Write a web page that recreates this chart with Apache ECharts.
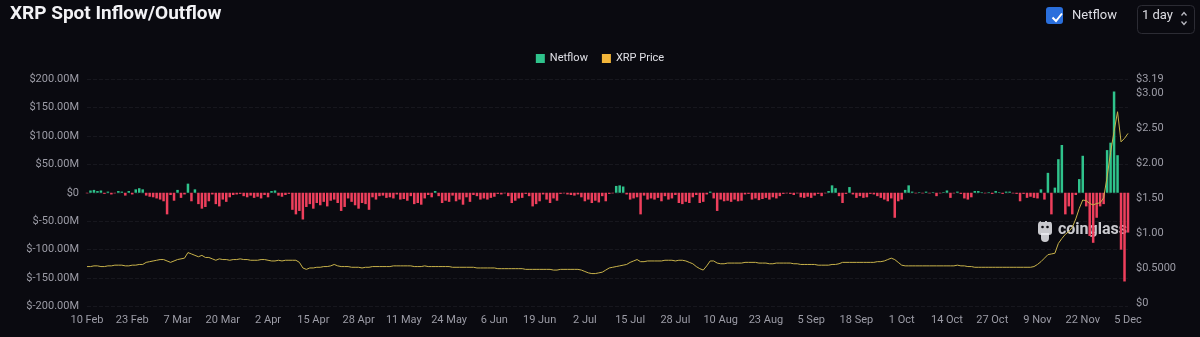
<!DOCTYPE html>
<html>
<head>
<meta charset="utf-8">
<script src="https://cdn.jsdelivr.net/npm/echarts@6/dist/echarts.min.js"></script>
<style>
  html, body { margin: 0; padding: 0; background: #0a0a10; }
  #chart { width: 1200px; height: 337px; }
</style>
</head>
<body>
<div id="chart"></div>
<script>
// ---- data ----
const startDate = '2024-02-10';
const dayCount = 300;
const monthNames = ['Jan','Feb','Mar','Apr','May','Jun','Jul','Aug','Sep','Oct','Nov','Dec'];

// Netflow, millions of USD (one per day)
const netflow = [
  -1,4,5,3,4,-2,2,-3,-1,3,
  2,-5,3,-3,6,8,6,-5,-7,-8,
  -10,-12,-15,-38,-4,-14,5,-9,-3,16,
  -15,6,-20,-28,-25,-15,-3,-20,-24,-12,
  -16,-8,-4,-3,-2,-6,-8,-5,-9,-7,
  -10,-4,-8,3,4,-5,-7,-4,-2,-30,
  -38,-32,-47,-25,-20,-28,-18,-22,-16,-24,
  -14,-12,-18,-32,-25,-10,-16,-22,-28,-18,
  -20,-30,-8,-12,-6,-5,-9,-8,-10,-3,
  -12,-11,-14,-6,-20,-18,-21,-10,-4,-8,
  3,-6,-18,-14,-16,-5,-15,-12,-21,-8,
  -16,-4,-6,-12,-10,-12,-9,-7,-2,-3,
  -1,-6,-18,-14,-10,-9,-2,-6,-24,-20,
  -15,-3,-12,-18,-10,-14,-2,-1,-3,-4,
  -5,-3,-8,-15,-12,-18,-14,-17,-6,-15,
  -2,-1,12,13,11,-3,-12,-10,-8,-38,
  -5,-12,-10,-12,-9,-15,-6,-12,-10,-4,
  -18,-20,-16,-18,-8,-4,-18,-16,-3,2,
  -10,-32,-12,-15,-14,-16,-12,-15,-14,-3,
  -2,-12,-10,-13,-11,-9,-12,-8,-10,-6,
  -2,-1,-2,-4,-1,-8,-9,-7,-9,-5,
  -2,-6,-1,3,13,8,-6,-18,-2,10,
  -3,-9,-6,-9,-8,-2,-3,-6,-9,-12,
  -15,-10,-44,-15,-12,5,13,2,-1,1,
  -1,2,-1,1,-6,-1,1,4,-9,-1,
  2,-2,-10,-12,-8,3,3,1,-1,1,
  -2,3,1,-2,2,2,-1,-2,-15,-2,
  -9,-7,-9,-10,6,-12,35,-38,9,59,
  84,-38,-24,-38,-4,24,65,-24,-76,-88,
  -44,-24,-20,75,88,178,66,-100,-156,-70
];

// XRP price, USD (one per day)
const price = [
  0.52,0.52,0.53,0.53,0.52,0.52,0.53,0.53,0.54,0.54,0.54,0.53,0.53,0.54,0.54,0.55,0.55,0.58,0.59,0.60,
  0.61,0.62,0.62,0.60,0.58,0.60,0.62,0.63,0.64,0.72,0.70,0.68,0.66,0.68,0.65,0.65,0.63,0.61,0.63,0.62,
  0.62,0.61,0.62,0.62,0.63,0.62,0.62,0.61,0.61,0.61,0.62,0.62,0.61,0.60,0.60,0.61,0.60,0.61,0.61,0.61,
  0.61,0.58,0.50,0.48,0.50,0.50,0.51,0.51,0.52,0.52,0.53,0.55,0.53,0.52,0.52,0.52,0.51,0.51,0.51,0.50,
  0.51,0.51,0.52,0.52,0.52,0.52,0.52,0.52,0.53,0.53,0.53,0.53,0.53,0.53,0.52,0.52,0.52,0.53,0.52,0.52,
  0.52,0.52,0.52,0.52,0.52,0.51,0.51,0.51,0.51,0.51,0.51,0.51,0.50,0.50,0.50,0.50,0.50,0.50,0.49,0.49,
  0.49,0.49,0.49,0.49,0.49,0.49,0.48,0.48,0.48,0.48,0.48,0.48,0.48,0.48,0.47,0.47,0.48,0.48,0.48,0.48,
  0.48,0.48,0.47,0.45,0.43,0.42,0.42,0.43,0.44,0.47,0.50,0.51,0.52,0.53,0.54,0.55,0.58,0.60,0.62,0.59,
  0.59,0.60,0.60,0.60,0.60,0.60,0.61,0.61,0.61,0.60,0.61,0.61,0.60,0.58,0.56,0.52,0.49,0.47,0.53,0.60,
  0.60,0.57,0.56,0.56,0.57,0.57,0.57,0.57,0.57,0.58,0.58,0.58,0.58,0.57,0.57,0.57,0.56,0.56,0.57,0.57,
  0.57,0.57,0.57,0.56,0.56,0.55,0.55,0.55,0.55,0.55,0.54,0.54,0.54,0.54,0.55,0.55,0.56,0.58,0.58,0.58,
  0.58,0.58,0.58,0.58,0.58,0.58,0.58,0.59,0.59,0.60,0.62,0.64,0.62,0.58,0.54,0.53,0.53,0.53,0.53,0.53,
  0.53,0.53,0.53,0.53,0.53,0.53,0.53,0.53,0.53,0.53,0.54,0.53,0.53,0.52,0.52,0.51,0.51,0.51,0.51,0.51,
  0.51,0.51,0.51,0.51,0.51,0.51,0.51,0.51,0.51,0.51,0.51,0.51,0.52,0.55,0.59,0.64,0.69,0.70,0.71,0.85,
  0.92,0.98,1.02,1.08,1.20,1.35,1.47,1.46,1.42,1.40,1.42,1.43,1.50,1.80,2.15,2.45,2.73,2.30,2.35,2.42
];

// axis ranges
const netflowMin = -200, netflowMax = 200, netflowStep = 50;
const priceMin = 0, priceMax = 3.19, priceStep = 0.5;

// categories: day labels like "10 Feb"
const categories = [];
(function () {
  const d = new Date(startDate + 'T00:00:00Z');
  for (let i = 0; i < dayCount; i++) {
    categories.push(d.getUTCDate() + ' ' + monthNames[d.getUTCMonth()]);
    d.setUTCDate(d.getUTCDate() + 1);
  }
})();

// ---- chart ----
const GREEN = '#2fc38c';
const RED = '#ee3f5c';
const GOLD = '#f2b53a';
const LABEL = '#9c9ca6';
const FONT = 'Roboto, "Noto Sans", sans-serif';

const chart = echarts.init(document.getElementById('chart'), null, { renderer: 'canvas' });

const option = {
  backgroundColor: '#0a0a10',
  animation: false,
  textStyle: { fontFamily: FONT },
  legend: {
    top: 48,
    left: 'center',
    icon: 'rect',
    itemWidth: 9,
    itemHeight: 9,
    itemGap: 14,
    textStyle: { color: '#e0e0e6', fontSize: 11, fontFamily: FONT },
    data: [
      { name: 'Netflow', itemStyle: { color: GREEN } },
      { name: 'XRP Price', itemStyle: { color: GOLD } }
    ]
  },
  grid: [
    { left: 87, right: 72, top: 79, bottom: 30.5 },
    { left: 87, right: 72, top: 79.5, bottom: 34 }
  ],
  xAxis: [
    {
      type: 'category',
      gridIndex: 0,
      data: categories,
      boundaryGap: false,
      axisLine: { show: false },
      axisTick: { show: false },
      axisLabel: { interval: 12, color: LABEL, fontSize: 11, margin: 8, fontFamily: FONT },
      splitLine: { show: false }
    },
    {
      type: 'category',
      gridIndex: 1,
      data: categories,
      boundaryGap: false,
      show: false
    }
  ],
  yAxis: [
    {
      type: 'value',
      gridIndex: 0,
      min: netflowMin,
      max: netflowMax,
      interval: netflowStep,
      axisLine: { show: false },
      axisTick: { show: false },
      axisLabel: {
        color: LABEL, fontSize: 11, margin: 8, fontFamily: FONT,
        formatter: v => v === 0 ? '$0' : '$' + v.toFixed(2) + 'M'
      },
      splitLine: { show: true, lineStyle: { color: '#17171e', type: 'dashed', width: 1 } }
    },
    {
      type: 'value',
      gridIndex: 1,
      position: 'right',
      min: priceMin,
      max: priceMax,
      interval: priceStep,
      axisLine: { show: false },
      axisTick: { show: false },
      axisLabel: {
        color: LABEL, fontSize: 11, margin: 8, fontFamily: FONT, showMaxLabel: true,
        formatter: v => v === 0 ? '$0' : (Math.abs(v - 0.5) < 1e-9 ? '$0.5000' : '$' + v.toFixed(2))
      },
      splitLine: { show: false }
    }
  ],
  series: [
    {
      name: 'Netflow',
      type: 'bar',
      xAxisIndex: 0,
      yAxisIndex: 0,
      data: netflow,
      barCategoryGap: '28%',
      color: GREEN,
      itemStyle: { color: p => (p.value >= 0 ? GREEN : RED) }
    },
    {
      name: 'XRP Price',
      type: 'line',
      xAxisIndex: 1,
      yAxisIndex: 1,
      data: price,
      symbol: 'none',
      color: GOLD,
      lineStyle: { color: '#c8b24a', width: 1 },
      z: 5
    }
  ],
  graphic: [
    {
      type: 'text', left: 10, top: 5,
      style: { text: 'XRP Spot Inflow/Outflow', fill: '#f2f2f5', font: 'bold 19px ' + FONT }
    },
    {
      type: 'rect', left: 1046, top: 7,
      shape: { width: 17, height: 17, r: 3 },
      style: { fill: '#2a6fdc' }
    },
    {
      type: 'polyline', left: 1050, top: 11,
      shape: { points: [[0, 5], [3.5, 8.5], [9.5, 1]] },
      style: { stroke: '#ffffff', lineWidth: 2, fill: null }
    },
    {
      type: 'text', left: 1072, top: 9,
      style: { text: 'Netflow', fill: '#dedee4', font: '13px ' + FONT }
    },
    {
      type: 'rect', left: 1135, top: 3,
      shape: { width: 57, height: 28, r: 4 },
      style: { fill: 'none', stroke: '#2c2c34', lineWidth: 1 }
    },
    {
      type: 'text', left: 1142, top: 9,
      style: { text: '1 day', fill: '#dedee4', font: '13px ' + FONT }
    },
    {
      type: 'polyline', left: 1179, top: 10,
      shape: { points: [[0, 3], [2.5, 0], [5, 3]] },
      style: { stroke: '#bbbbc2', lineWidth: 1.2, fill: null }
    },
    {
      type: 'polyline', left: 1179, top: 19,
      shape: { points: [[0, 0], [2.5, 3], [5, 0]] },
      style: { stroke: '#bbbbc2', lineWidth: 1.2, fill: null }
    },
    {
      type: 'group', left: 1038, top: 221, z: 20,
      children: [
        { type: 'rect', shape: { x: 2, y: 0, width: 14, height: 14, r: [4, 4, 3, 3] }, style: { fill: 'rgba(235,235,240,0.85)' } },
        { type: 'rect', shape: { x: 5, y: 12, width: 8, height: 9, r: [0, 0, 4, 4] }, style: { fill: 'rgba(235,235,240,0.85)' } },
        { type: 'circle', shape: { cx: 6.5, cy: 6, r: 1.3 }, style: { fill: '#0a0a10' } },
        { type: 'circle', shape: { cx: 11.5, cy: 6, r: 1.3 }, style: { fill: '#0a0a10' } },
        { type: 'text', x: 22, y: 1, style: { text: 'coinglass', fill: 'rgba(235,235,240,0.85)', font: 'bold 16px ' + FONT } }
      ]
    }
  ]
};

chart.setOption(option);
</script>
</body>
</html>
